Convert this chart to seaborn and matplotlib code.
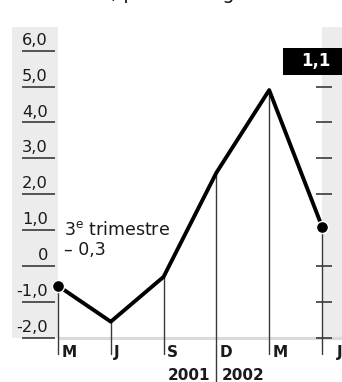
import matplotlib
matplotlib.use('Agg')
import matplotlib.pyplot as plt
import seaborn as sns
from matplotlib.patches import Rectangle

# data
months = ['M', 'J', 'S', 'D', 'M', 'J']
growth = [-0.55, -1.55, -0.3, 2.6, 4.9, 1.1]
ticks = [6.0, 5.0, 4.0, 3.0, 2.0, 1.0, 0.0, -1.0, -2.0]
tick_labels = ['6,0', '5,0', '4,0', '3,0', '2,0', '1,0', '0', '-1,0', '-2,0']
years = ['2001', '2002']
note_title = '3$^{\\mathrm{e}}$ trimestre'
note_value = '– 0,3'
title = 'Croissance, pourcentage'


def fmt(v):
    return f'{v:.1f}'.replace('.', ',')


def plot_chart():
    sns.set_theme(style='white')
    plt.rcParams['font.family'] = ['DejaVu Sans']

    fig = plt.figure(figsize=(3.42, 3.82), dpi=100)
    ax = fig.add_axes([0, 0, 1, 1])
    # one x step ~ 52.8 px, one y unit ~ 35.9 px
    ax.set_xlim(-1.098, 5.379)
    ax.set_ylim(-3.23, 7.41)
    ax.axis('off')

    x = list(range(len(months)))
    grey = '#ececec'
    dark = '#3a3a3a'

    # grey side bands
    ax.add_patch(Rectangle((-0.871, -2.0), 0.871, 8.66, color=grey, lw=0, zorder=0))
    ax.add_patch(Rectangle((x[-1], -2.0), 0.5, 8.66, color=grey, lw=0, zorder=0))
    ax.plot([0, 5.379], [-2.0, -2.0], color='#dadada', lw=2.2, zorder=1,
            solid_capstyle='butt')

    # left tick labels with underlines
    for t, lab in zip(ticks, tick_labels):
        ax.plot([-0.68, -0.057], [t, t], color=dark, lw=1.2, zorder=2,
                solid_capstyle='butt')
        ax.text(-0.19, t + 0.08, lab, ha='right', va='bottom', fontsize=11.7,
                color='#1a1a1a', zorder=3)
        # right side ticks, the one next to the end dot is hidden
        if abs(t - growth[-1]) > 0.3:
            ax.plot([4.886, 5.19], [t, t], color=dark, lw=1.2, zorder=2,
                    solid_capstyle='butt')

    # drop lines and month labels
    for i, (xi, yi, m) in enumerate(zip(x, growth, months)):
        bottom = -3.23 if i == 3 else -2.46
        ax.plot([xi, xi], [yi, bottom], color=dark, lw=1.0, zorder=2)
        dx = 0.28 if i == len(months) - 1 else 0.06
        ax.text(xi + dx, -2.2, m, ha='left', va='top', fontsize=11,
                fontweight='bold', color='#1a1a1a')

    ax.text(x[3] - 0.11, -3.04, years[0], ha='right', va='center', fontsize=11,
            fontweight='bold', color='#1a1a1a')
    ax.text(x[3] + 0.11, -3.04, years[1], ha='left', va='center', fontsize=11,
            fontweight='bold', color='#1a1a1a')

    sns.lineplot(x=x, y=growth, color='black', lw=2.8, ax=ax, zorder=4)
    sns.scatterplot(x=[x[0], x[-1]], y=[growth[0], growth[-1]], color='black',
                    s=75, edgecolor='white', linewidth=1.0, ax=ax, zorder=5)

    # annotation for Q3
    ax.text(0.114, 0.86, note_title, ha='left', va='baseline', fontsize=12.5,
            color='#1a1a1a')
    ax.text(0.114, 0.31, note_value, ha='left', va='baseline', fontsize=12.5,
            color='#1a1a1a')

    # last value box
    ax.add_patch(Rectangle((4.26, 5.32), 1.2, 0.75, color='black', lw=0, zorder=6))
    ax.text(5.17, 5.70, fmt(growth[-1]), ha='right', va='center', fontsize=12,
            fontweight='bold', color='white', zorder=7)

    # title, cut off at the top edge as in the source (only descenders show)
    ax.text(-1.0, 7.43, title, ha='left', va='baseline', fontsize=14,
            color='#1a1a1a')

    fig.savefig('out.png', dpi=100)


if __name__ == '__main__':
    plot_chart()
